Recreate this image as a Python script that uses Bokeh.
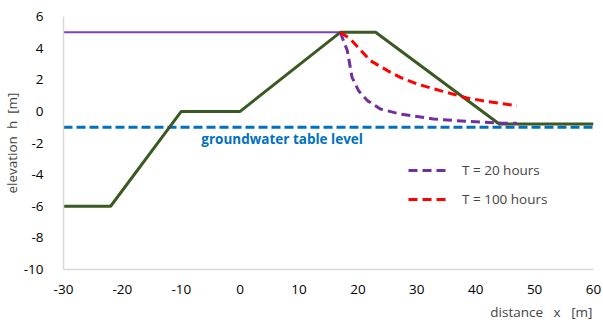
from bokeh.plotting import figure
from bokeh.models import Range1d, FixedTicker, Legend, LegendItem, Title
from bokeh.core.properties import value
from bokeh.embed import file_html
from bokeh.resources import INLINE

# dam profile
dam_x = [-30, -22, -10, 0, 17, 23, 44, 60]
dam_y = [-6, -6, 0, 0, 5, 5, -0.8, -0.8]
# reservoir level
res_x = [-30, 17]
res_y = [5, 5]
# groundwater table
gw_x = [-30, 60]
gw_y = [-1, -1]
# phreatic lines
t20_x = [17, 18.2, 19.0, 20.1, 21.6, 23.8, 27.2, 32.8, 38.5, 44.2, 47.0]
t20_y = [5, 3.83, 2.15, 1.31, 0.68, 0.15, -0.17, -0.48, -0.63, -0.74, -0.75]
t100_x = [17, 18.7, 22.1, 25.0, 27.2, 30.0, 34.0, 38.5, 41.9, 47.0]
t100_y = [5, 4.58, 3.21, 2.58, 2.15, 1.74, 1.31, 0.85, 0.63, 0.36]
x_ticks = [-30, -20, -10, 0, 10, 20, 30, 40, 50, 60]
y_ticks = [-10, -8, -6, -4, -2, 0, 2, 4, 6]

FONT = "Open Sans"
FS = "13.5px"
NB = "\u00a0"

p = figure(width=603, height=325, output_backend="svg", toolbar_location=None,
           x_range=Range1d(-30, 60), y_range=Range1d(-10, 6),
           min_border_left=63, min_border_top=16, min_border_right=10, min_border_bottom=56)
p.outline_line_color = None
p.grid.visible = False

for ax in (p.xaxis, p.yaxis):
    ax.axis_line_color = "#d9d9d9"
    ax.axis_line_width = 1.5
    ax.major_tick_line_color = None
    ax.minor_tick_line_color = None
    ax.major_label_text_font = FONT
    ax.major_label_text_font_size = FS
    ax.major_label_text_color = "#000000"
p.xaxis.ticker = FixedTicker(ticks=x_ticks)
p.yaxis.ticker = FixedTicker(ticks=y_ticks)
p.xaxis.major_label_overrides = {t: str(t) for t in x_ticks}
p.yaxis.major_label_overrides = {t: str(t) for t in y_ticks}
p.xaxis.major_label_standoff = 9
p.yaxis.major_label_standoff = 14

p.add_layout(Title(text="elevation" + NB * 2 + "h" + NB * 2 + "[m]", align="center", text_font=FONT,
                   text_font_size=FS, text_font_style="normal",
                   offset=0, standoff=0), "left")

p.add_layout(Title(text="distance" + NB * 3 + "x" + NB * 3 + "[m]", align="right", text_font=FONT,
                   text_font_size=FS, text_font_style="normal",
                   offset=1, standoff=9), "below")

p.line(gw_x, gw_y, line_color="#0070C0", line_width=3, line_dash="9 4")
p.line(res_x, res_y, line_color="#7F3FBF", line_width=2)
p.line(dam_x, dam_y, line_color="#3B5A23", line_width=3)
r20 = p.line(t20_x, t20_y, line_color="#7030A0", line_width=3, line_dash="9 5")
r100 = p.line(t100_x, t100_y, line_color="#FF0000", line_width=3, line_dash="9 5")

p.text(x=[-6.6], y=[-1.73], text=["groundwater table level"], text_font=value(FONT),
       text_font_size=FS, text_font_style="bold", text_color="#0070C0",
       text_baseline="middle", text_align="left")

legend = Legend(items=[LegendItem(label="T = 20 hours", renderers=[r20]),
                       LegendItem(label="T = 100 hours", renderers=[r100])],
                location=(345, 60), orientation="vertical",
                border_line_color=None, background_fill_alpha=0,
                padding=0, margin=0, spacing=9, glyph_width=40, glyph_height=20,
                label_standoff=14, label_text_font=FONT, label_text_font_size=FS)
p.add_layout(legend, "center")

open("out.html", "w").write(file_html(p, INLINE))
